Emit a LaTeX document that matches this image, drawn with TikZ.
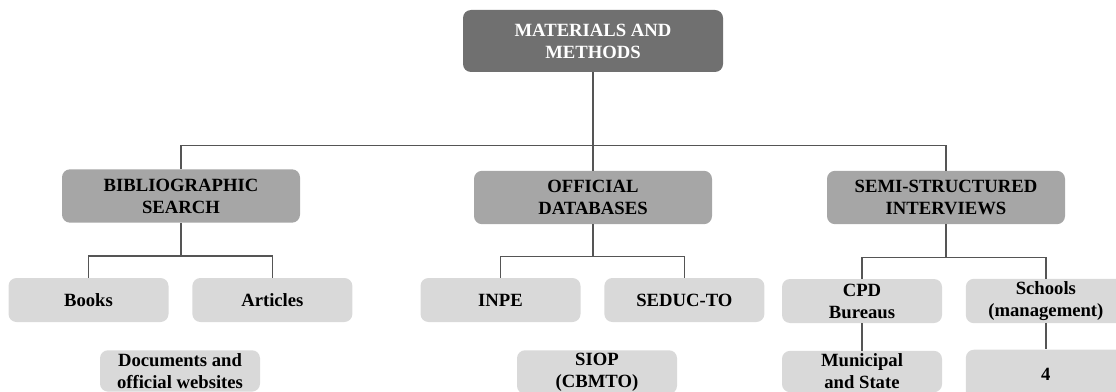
\documentclass[tikz,border=0pt]{standalone}
\usepackage{fontspec}
\setmainfont{Liberation Serif}
\usetikzlibrary{positioning}

\definecolor{boxdark}{HTML}{707070}
\definecolor{boxmid}{HTML}{A6A6A6}
\definecolor{boxlight}{HTML}{D9D9D9}
\definecolor{linegray}{HTML}{555555}

\tikzset{
	box/.style={rounded corners=6pt, align=center, inner sep=2pt, font=\fontsize{14}{16.5}\selectfont\bfseries},
	mainbox/.style={box, fill=boxdark, text=white, minimum width=195pt, minimum height=46.5pt},
	groupbox/.style={box, fill=boxmid, minimum width=178.5pt, minimum height=40pt},
	itembox/.style={box, fill=boxlight, minimum width=120pt, minimum height=33pt},
	leafbox/.style={box, fill=boxlight, minimum width=120pt, minimum height=31pt},
	link/.style={draw=linegray, line width=1.1pt}
}

\begin{document}
\begin{tikzpicture}[x=0.75pt,y=-0.75pt,node distance=17.5pt]

	\useasboundingbox (0,0) rectangle (1116,392);

	%Titre
	\node[mainbox] (root) at (593,41) {MATERIALS AND\\METHODS};

	%Groupes
	\node[groupbox] (bib) at (181,196) {BIBLIOGRAPHIC\\SEARCH};
	\node[groupbox] (off) at (593,197.5) {OFFICIAL\\DATABASES};
	\node[groupbox] (semi) at (946,197.5) {SEMI-STRUCTURED\\INTERVIEWS};

	%Sources
	\node[itembox] (books) at (88.5,300) {Books};
	\node[itembox, right = of books] (articles) {Articles};
	\node[itembox] (inpe) at (500.5,300) {INPE};
	\node[itembox, right = of inpe] (seduc) {SEDUC-TO};
	\node[itembox] (cpd) at (862,301) {CPD\\Bureaus};
	\node[itembox, right = of cpd] (schools) {Schools\\(management)};

	%Bas
	\node[leafbox, anchor=north] (docs) at (180,350) {Documents and\\official websites};
	\node[leafbox, anchor=north] (siop) at (597,350) {SIOP\\(CBMTO)};
	\node[leafbox, below = 20.5pt of cpd] (municipal) {Municipal\\and State};
	\node[leafbox, below = 19.5pt of schools, minimum height=37.5pt] (four) {4};

	%Traits
	\draw[link] (root.south) -- (off.north);
	\draw[link] (bib.north) -- ++(0,-23.5) -| (semi.north);

	\draw[link] (bib.south) -- ++(0,33) coordinate (bibfork);
	\draw[link] (books.north) |- (bibfork) -| (articles.north);
	\draw[link] (off.south) -- ++(0,32) coordinate (offfork);
	\draw[link] (inpe.north) |- (offfork) -| (seduc.north);
	\draw[link] (semi.south) -- ++(0,33) coordinate (semifork);
	\draw[link] (cpd.north) |- (semifork) -| (schools.north);

	\draw[link] (cpd.south) -- (municipal.north);
	\draw[link] (schools.south) -- (four.north);

\end{tikzpicture}
\end{document}
